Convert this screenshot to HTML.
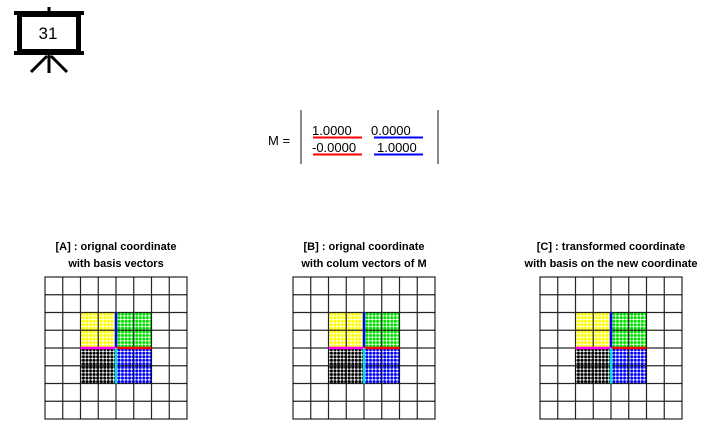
<!DOCTYPE html>
<html><head><meta charset="utf-8"><style>
body{margin:0;background:#fff;width:719px;height:435px;overflow:hidden}
svg{display:block}
</style></head><body>
<svg width="719" height="435" xmlns="http://www.w3.org/2000/svg">
<defs>
<pattern id="py" x="0" y="0" width="3.55" height="3.55" patternUnits="userSpaceOnUse"><circle cx="1.8" cy="1.8" r="1.55" fill="#ffff00"/></pattern>
<pattern id="pg" x="0" y="0" width="3.55" height="3.55" patternUnits="userSpaceOnUse"><circle cx="1.8" cy="1.8" r="1.55" fill="#00e000"/></pattern>
<pattern id="pk" x="0" y="0" width="3.55" height="3.55" patternUnits="userSpaceOnUse"><circle cx="1.8" cy="1.8" r="1.55" fill="#000"/></pattern>
<pattern id="pb" x="0" y="0" width="3.55" height="3.55" patternUnits="userSpaceOnUse"><circle cx="1.8" cy="1.8" r="1.55" fill="#0000ff"/></pattern>
<g id="grid">
<rect x="80" y="312" width="36" height="36" fill="url(#py)"/>
<rect x="116" y="312" width="36" height="36" fill="url(#pg)"/>
<rect x="80" y="348" width="36" height="36" fill="url(#pk)"/>
<rect x="116" y="348" width="36" height="36" fill="url(#pb)"/>
<g stroke="#000" stroke-width="1.2" fill="none" stroke-opacity="0.85">
<rect x="45" y="277" width="142" height="142"/>
<path d="M62.75 277V419M80.5 277V419M98.25 277V419M116 277V419M133.75 277V419M151.5 277V419M169.25 277V419M45 294.75H187M45 312.5H187M45 330.25H187M45 348H187M45 365.75H187M45 383.5H187M45 401.25H187"/>
</g>
<line x1="116" y1="312.5" x2="116" y2="348" stroke="#0000ff" stroke-width="2.5"/>
<line x1="116" y1="348" x2="151.5" y2="348" stroke="#ff0000" stroke-width="2.5"/>
<line x1="80.5" y1="348" x2="116" y2="348" stroke="#ff00ff" stroke-width="2.5"/>
<line x1="116" y1="348" x2="116" y2="383.5" stroke="#00e0e0" stroke-width="2.5"/>
</g>
</defs>
<use href="#grid"/>
<use href="#grid" x="248"/>
<use href="#grid" x="495"/>
<g font-family="Liberation Sans, sans-serif" font-weight="bold" font-size="11" text-anchor="middle" fill="#000">
<text x="116" y="250">[A] : orignal coordinate</text>
<text x="116" y="267">with basis vectors</text>
<text x="364" y="250">[B] : orignal coordinate</text>
<text x="364" y="267">with colum vectors of M</text>
<text x="611" y="250">[C] : transformed coordinate</text>
<text x="611" y="267">with basis on the new coordinate</text>
</g>
<g stroke="#000" fill="none">
<rect x="19.5" y="14.5" width="59" height="37" stroke-width="5"/>
<line x1="14" y1="13" x2="84" y2="13" stroke-width="4"/>
<line x1="14" y1="53" x2="84" y2="53" stroke-width="4"/>
<line x1="49" y1="7" x2="49" y2="12" stroke-width="3"/>
<line x1="49" y1="55" x2="49" y2="73" stroke-width="3"/>
<line x1="47" y1="56" x2="31" y2="72" stroke-width="3"/>
<line x1="51" y1="56" x2="67" y2="72" stroke-width="3"/>
</g>
<text x="48" y="39" font-family="Liberation Sans, sans-serif" font-size="17" text-anchor="middle">31</text>
<g font-family="Liberation Sans, sans-serif" font-size="13" fill="#000">
<text x="268" y="145">M =</text>
<text x="312" y="135">1.0000</text>
<text x="371" y="135">0.0000</text>
<text x="312" y="152">-0.0000</text>
<text x="377" y="152">1.0000</text>
</g>
<line x1="301" y1="110" x2="301" y2="164" stroke="#888" stroke-width="2"/>
<line x1="438" y1="110" x2="438" y2="164" stroke="#888" stroke-width="2"/>
<g stroke-width="2">
<line x1="313" y1="137.5" x2="362" y2="137.5" stroke="#ff0000"/>
<line x1="313" y1="154.5" x2="362" y2="154.5" stroke="#ff0000"/>
<line x1="374" y1="137.5" x2="423" y2="137.5" stroke="#0000ff"/>
<line x1="374" y1="154.5" x2="423" y2="154.5" stroke="#0000ff"/>
</g>
</svg>
</body></html>
